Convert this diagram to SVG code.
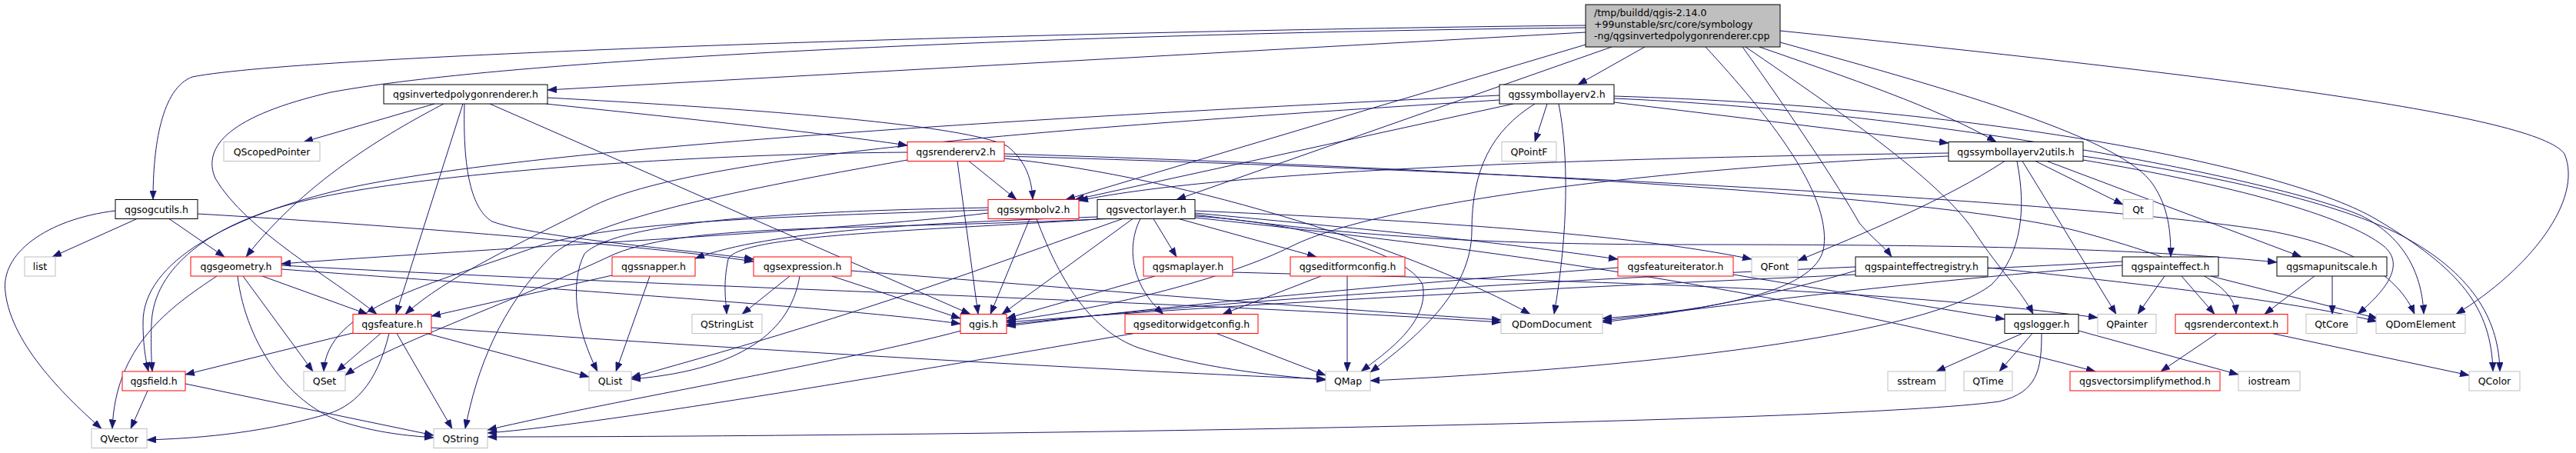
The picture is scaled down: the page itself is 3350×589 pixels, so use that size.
<svg xmlns="http://www.w3.org/2000/svg" width="3350" height="589" viewBox="0 0 3350 589">
<style>
rect{fill:#fff;stroke-width:1}
.b rect{stroke:#000}
.r rect{stroke:#ff0000}
.g rect{stroke:#bfbfbf}
.t rect{fill:#bfbfbf;stroke:#000}
text{font-family:"DejaVu Sans","Liberation Sans",sans-serif;font-size:12.5px;fill:#000;text-anchor:middle}
.t text{text-anchor:start}
#edges path{fill:none;stroke:#191970;stroke-width:1;marker-end:url(#a)}
</style>
<defs>
<marker id="a" markerWidth="12" markerHeight="9" refX="12" refY="4.5" orient="auto" markerUnits="userSpaceOnUse"><path d="M0,0 L12,4.5 L0,9 z" fill="#191970" stroke="#191970" stroke-width="0.5"/></marker>
</defs>
<rect x="0" y="0" width="3350" height="589" style="fill:#fff;stroke:none"/>
<g id="edges">
<path d="M2062,42 L712,117"/>
<path d="M2062,33 C1400,40 400,70 250,100 C210,115 199,190 199,259.5"/>
<path d="M2062,36 C1500,42 700,70 430,120 C300,150 262,190 280,232 C320,300 430,360 490,408.5"/>
<path d="M2139,61 L2052,110"/>
<path d="M2062,58 L1386,259.5"/>
<path d="M2096,61 L1530,259.5"/>
<path d="M2218,61 C2300,150 2380,250 2372,320 C2365,385 2200,405 2084,414"/>
<path d="M2266,61 C2330,150 2390,240 2418,290 C2435,310 2450,320 2460,334"/>
<path d="M2270,61 C2400,150 2530,240 2570,305 C2600,350 2630,380 2644,408.5"/>
<path d="M2288,61 C2400,100 2520,140 2596,184.5"/>
<path d="M2315,55 C2550,120 2760,180 2800,240 C2820,270 2823,300 2823,334"/>
<path d="M2315,40 C2900,100 3300,150 3335,200 C3360,260 3290,350 3194,408.5"/>
<path d="M565,135 L395,184.5"/>
<path d="M577,135 C520,165 400,230 320,334"/>
<path d="M602,135 L515,408.5"/>
<path d="M604,135 C602,210 610,270 640,288 C700,310 900,325 980,337"/>
<path d="M710,135 C850,150 1050,170 1180,189"/>
<path d="M712,127 C950,140 1250,160 1310,190 C1335,210 1342,235 1343,259.5"/>
<path d="M637,135 L1262,408.5"/>
<path d="M178,284.5 L68,334"/>
<path d="M220,284.5 L292,334"/>
<path d="M150,274 C60,285 0,330 7,380 C15,450 90,520 132,557.5"/>
<path d="M257,278 C500,292 850,320 980,340"/>
<path d="M2012,135 L1996,184.5"/>
<path d="M1968,135 L1398,259.5"/>
<path d="M1950,124 C1400,150 700,190 450,245 C300,280 185,340 186,420 C186,450 190,470 193,483"/>
<path d="M1950,130 C1400,165 900,200 767,270 C680,315 580,360 527,408.5"/>
<path d="M1996,135 C1940,170 1914,220 1914,300 C1914,380 1840,440 1782,484"/>
<path d="M2027,135 C2040,200 2040,300 2021,408.5"/>
<path d="M2099,128 C2500,145 2950,230 3070,280 C3130,310 3150,360 3152,408.5"/>
<path d="M2099,125 C2600,140 2980,220 3090,285 C3200,350 3240,400 3242,483"/>
<path d="M2099,133 L2534,186"/>
<path d="M2534,199 C2100,205 1600,220 1403,261"/>
<path d="M2534,203 C2200,215 1800,260 1680,320 C1600,360 1450,400 1309,417"/>
<path d="M2607,209.5 C2530,260 2420,305 2338,339"/>
<path d="M2623,209.5 C2635,270 2630,330 2590,370 C2500,440 2100,480 1782,495"/>
<path d="M2630,209.5 L2752,408.5"/>
<path d="M2647,209.5 L2761,266"/>
<path d="M2662,209.5 L2993,334"/>
<path d="M2709,203 C2900,230 3060,270 3130,310 C3220,360 3250,420 3251,483"/>
<path d="M2709,208 C2900,240 3050,280 3100,320 C3130,345 3100,380 3066,408.5"/>
<path d="M1339,284.5 L1288,408.5"/>
<path d="M1348,284.5 C1380,370 1420,430 1480,452 C1560,478 1650,488 1724,494"/>
<path d="M1285,277 C1100,300 600,325 366,343"/>
<path d="M1285,270 C1000,275 800,290 760,330 C740,370 750,430 777,483"/>
<path d="M1285,273 C1000,282 800,288 700,320 C560,370 425,400 421,483"/>
<path d="M1500,284.5 L1530,334"/>
<path d="M1533,284.5 L1712,334"/>
<path d="M1483,284.5 C1465,320 1470,370 1513,408.5"/>
<path d="M1473,284.5 L1303,408.5"/>
<path d="M1460,284.5 C1300,340 1150,400 821,491"/>
<path d="M1427,282 C1200,290 1000,300 904,336"/>
<path d="M1427,285 C1200,300 960,305 947,337 C940,370 944,390 945,408.5"/>
<path d="M1440,284.5 C1100,300 900,290 800,330 C650,400 500,450 449,488"/>
<path d="M1554,274 C1800,285 2100,300 2278,337"/>
<path d="M1554,277 C1800,300 1950,315 2104,337"/>
<path d="M1554,279 C1750,305 1900,318 2200,318 C2600,318 2800,325 2961,341"/>
<path d="M1554,281 C1700,290 1830,330 1850,370 C1860,420 1800,460 1770,483"/>
<path d="M1554,283 C1900,320 2300,370 2725,483"/>
<path d="M1502,359 L1309,414"/>
<path d="M1603,354 C2000,365 2400,370 2728,413"/>
<path d="M1752,359 L1752,483"/>
<path d="M1718,359 L1590,408.5"/>
<path d="M1582,433.5 L1724,488"/>
<path d="M1475,433.5 C1200,480 800,550 634,563"/>
<path d="M1250,430 C1100,470 800,520 634,559"/>
<path d="M796,358 L561,411"/>
<path d="M845,359 L801,483"/>
<path d="M1027,359 L965,408.5"/>
<path d="M1040,359 C1030,420 980,480 821,493"/>
<path d="M1082,359 L1249,414"/>
<path d="M1107,352 C1400,375 1700,400 1952,416"/>
<path d="M341,359 L478,408.5"/>
<path d="M316,359 L407,483"/>
<path d="M282,359 C220,400 150,450 146,557.5"/>
<path d="M309,359 C320,450 380,530 450,550 C500,565 540,567 564,569"/>
<path d="M366,345 C800,370 1500,390 1952,419"/>
<path d="M366,350 C700,375 1100,400 1249,421"/>
<path d="M459,433 L241,487"/>
<path d="M495,433.5 L438,483"/>
<path d="M506,433.5 C490,500 460,530 420,540 C330,565 250,570 191,572"/>
<path d="M516,433.5 L588,557.5"/>
<path d="M555,433.5 L766,490"/>
<path d="M561,426 C900,450 1400,480 1724,493"/>
<path d="M192,508 L170,557.5"/>
<path d="M241,499 L564,566"/>
<path d="M2630,433.5 L2518,483"/>
<path d="M2643,433.5 L2600,483"/>
<path d="M2703,430 L2911,487"/>
<path d="M2655,433.5 C2655,480 2650,510 2600,522 C2400,550 1200,568 634,568"/>
<path d="M2883,433.5 L2810,483"/>
<path d="M2955,433.5 L3211,488"/>
<path d="M2815,359 L2780,408.5"/>
<path d="M2837,359 L2880,408.5"/>
<path d="M2875,359 L3092,414"/>
<path d="M2760,340 C2400,360 1800,380 1309,419"/>
<path d="M2760,345 C2500,365 2300,390 2084,417"/>
<path d="M2413,347 C2000,365 1600,390 1309,422"/>
<path d="M2413,352 C2300,385 2200,405 2084,419"/>
<path d="M2585,348 C2800,370 3000,395 3091,418"/>
<path d="M3010,359 L2945,408.5"/>
<path d="M3033,359 L3033,408.5"/>
<path d="M2254,357 L2607,415"/>
<path d="M2104,348 C1800,370 1500,400 1309,424"/>
<path d="M1245,209.5 L1272,408.5"/>
<path d="M1260,209.5 L1322,259.5"/>
<path d="M1180,198 C900,200 550,225 400,260 C270,290 200,350 197,420 C196,450 197,470 198,483"/>
<path d="M1180,208 C1000,240 780,280 720,330 C650,400 620,480 605,557.5"/>
<path d="M1306,200 C1800,215 2500,250 2700,300 C2850,340 2905,370 2908,408.5"/>
<path d="M1306,206 C1550,230 1850,330 1990,408.5"/>
<path d="M1306,203 C1900,220 2700,260 2950,300 C3060,320 3120,360 3140,408.5"/>
</g>
<g id="n_top" class="t"><rect x="2062" y="6" width="253" height="55"/><text x="2073" y="21">/tmp/buildd/qgis-2.14.0</text><text x="2073" y="36">+99unstable/src/core/symbology</text><text x="2073" y="51">-ng/qgsinvertedpolygonrenderer.cpp</text></g>
<g id="n_inv" class="b"><rect x="499" y="110" width="213" height="25"/><text x="605.5" y="127">qgsinvertedpolygonrenderer.h</text></g>
<g id="n_sl" class="b"><rect x="1950" y="110" width="149" height="25"/><text x="2024.5" y="127">qgssymbollayerv2.h</text></g>
<g id="n_qsp" class="g"><rect x="291" y="184.5" width="125" height="25"/><text x="353.5" y="201.5">QScopedPointer</text></g>
<g id="n_ren" class="r"><rect x="1180" y="184.5" width="126" height="25"/><text x="1243" y="201.5">qgsrendererv2.h</text></g>
<g id="n_qpf" class="g"><rect x="1953" y="184.5" width="71" height="25"/><text x="1988.5" y="201.5">QPointF</text></g>
<g id="n_slu" class="b"><rect x="2534" y="184.5" width="175" height="25"/><text x="2621.5" y="201.5">qgssymbollayerv2utils.h</text></g>
<g id="n_ogc" class="b"><rect x="150" y="259.5" width="107" height="25"/><text x="203.5" y="276.5">qgsogcutils.h</text></g>
<g id="n_sym" class="r"><rect x="1285" y="259.5" width="118" height="25"/><text x="1344" y="276.5">qgssymbolv2.h</text></g>
<g id="n_vl" class="b"><rect x="1427" y="259.5" width="127" height="25"/><text x="1490.5" y="276.5">qgsvectorlayer.h</text></g>
<g id="n_qt" class="g"><rect x="2761" y="259.5" width="39" height="25"/><text x="2780.5" y="276.5">Qt</text></g>
<g id="n_list" class="g"><rect x="32" y="334" width="40" height="25"/><text x="52" y="351">list</text></g>
<g id="n_geo" class="r"><rect x="248" y="334" width="118" height="25"/><text x="307" y="351">qgsgeometry.h</text></g>
<g id="n_snap" class="r"><rect x="796" y="334" width="108" height="25"/><text x="850" y="351">qgssnapper.h</text></g>
<g id="n_expr" class="r"><rect x="980" y="334" width="127" height="25"/><text x="1043.5" y="351">qgsexpression.h</text></g>
<g id="n_ml" class="r"><rect x="1487" y="334" width="116" height="25"/><text x="1545" y="351">qgsmaplayer.h</text></g>
<g id="n_efc" class="r"><rect x="1678" y="334" width="149" height="25"/><text x="1752.5" y="351">qgseditformconfig.h</text></g>
<g id="n_fi" class="r"><rect x="2104" y="334" width="150" height="25"/><text x="2179" y="351">qgsfeatureiterator.h</text></g>
<g id="n_qf" class="g"><rect x="2278" y="334" width="60" height="25"/><text x="2308" y="351">QFont</text></g>
<g id="n_per" class="b"><rect x="2413" y="334" width="172" height="25"/><text x="2499" y="351">qgspainteffectregistry.h</text></g>
<g id="n_pe" class="b"><rect x="2760" y="334" width="125" height="25"/><text x="2822.5" y="351">qgspainteffect.h</text></g>
<g id="n_mus" class="b"><rect x="2961" y="334" width="143" height="25"/><text x="3032.5" y="351">qgsmapunitscale.h</text></g>
<g id="n_qsl" class="g"><rect x="900" y="408.5" width="91" height="25"/><text x="945.5" y="425.5">QStringList</text></g>
<g id="n_feat" class="r"><rect x="459" y="408.5" width="102" height="25"/><text x="510" y="425.5">qgsfeature.h</text></g>
<g id="n_qgis" class="r"><rect x="1249" y="408.5" width="60" height="25"/><text x="1279" y="425.5">qgis.h</text></g>
<g id="n_ewc" class="r"><rect x="1463" y="408.5" width="173" height="25"/><text x="1549.5" y="425.5">qgseditorwidgetconfig.h</text></g>
<g id="n_qdd" class="g"><rect x="1952" y="408.5" width="132" height="25"/><text x="2018" y="425.5">QDomDocument</text></g>
<g id="n_log" class="b"><rect x="2607" y="408.5" width="96" height="25"/><text x="2655" y="425.5">qgslogger.h</text></g>
<g id="n_qp" class="g"><rect x="2728" y="408.5" width="76" height="25"/><text x="2766" y="425.5">QPainter</text></g>
<g id="n_rc" class="r"><rect x="2829" y="408.5" width="146" height="25"/><text x="2902" y="425.5">qgsrendercontext.h</text></g>
<g id="n_qtc" class="g"><rect x="2999" y="408.5" width="66" height="25"/><text x="3032" y="425.5">QtCore</text></g>
<g id="n_qde" class="g"><rect x="3090" y="408.5" width="116" height="25"/><text x="3148" y="425.5">QDomElement</text></g>
<g id="n_fld" class="r"><rect x="159" y="483" width="82" height="25"/><text x="200" y="500">qgsfield.h</text></g>
<g id="n_qset" class="g"><rect x="395" y="483" width="54" height="25"/><text x="422" y="500">QSet</text></g>
<g id="n_qlist" class="g"><rect x="766" y="483" width="55" height="25"/><text x="793.5" y="500">QList</text></g>
<g id="n_qmap" class="g"><rect x="1724" y="483" width="58" height="25"/><text x="1753" y="500">QMap</text></g>
<g id="n_sst" class="g"><rect x="2455" y="483" width="75" height="25"/><text x="2492.5" y="500">sstream</text></g>
<g id="n_qtime" class="g"><rect x="2554" y="483" width="63" height="25"/><text x="2585.5" y="500">QTime</text></g>
<g id="n_vsm" class="r"><rect x="2692" y="483" width="195" height="25"/><text x="2789.5" y="500">qgsvectorsimplifymethod.h</text></g>
<g id="n_ios" class="g"><rect x="2911" y="483" width="80" height="25"/><text x="2951" y="500">iostream</text></g>
<g id="n_qc" class="g"><rect x="3211" y="483" width="66" height="25"/><text x="3244" y="500">QColor</text></g>
<g id="n_qv" class="g"><rect x="119" y="557.5" width="72" height="25"/><text x="155" y="574.5">QVector</text></g>
<g id="n_qs" class="g"><rect x="564" y="557.5" width="70" height="25"/><text x="599" y="574.5">QString</text></g>
</svg>
